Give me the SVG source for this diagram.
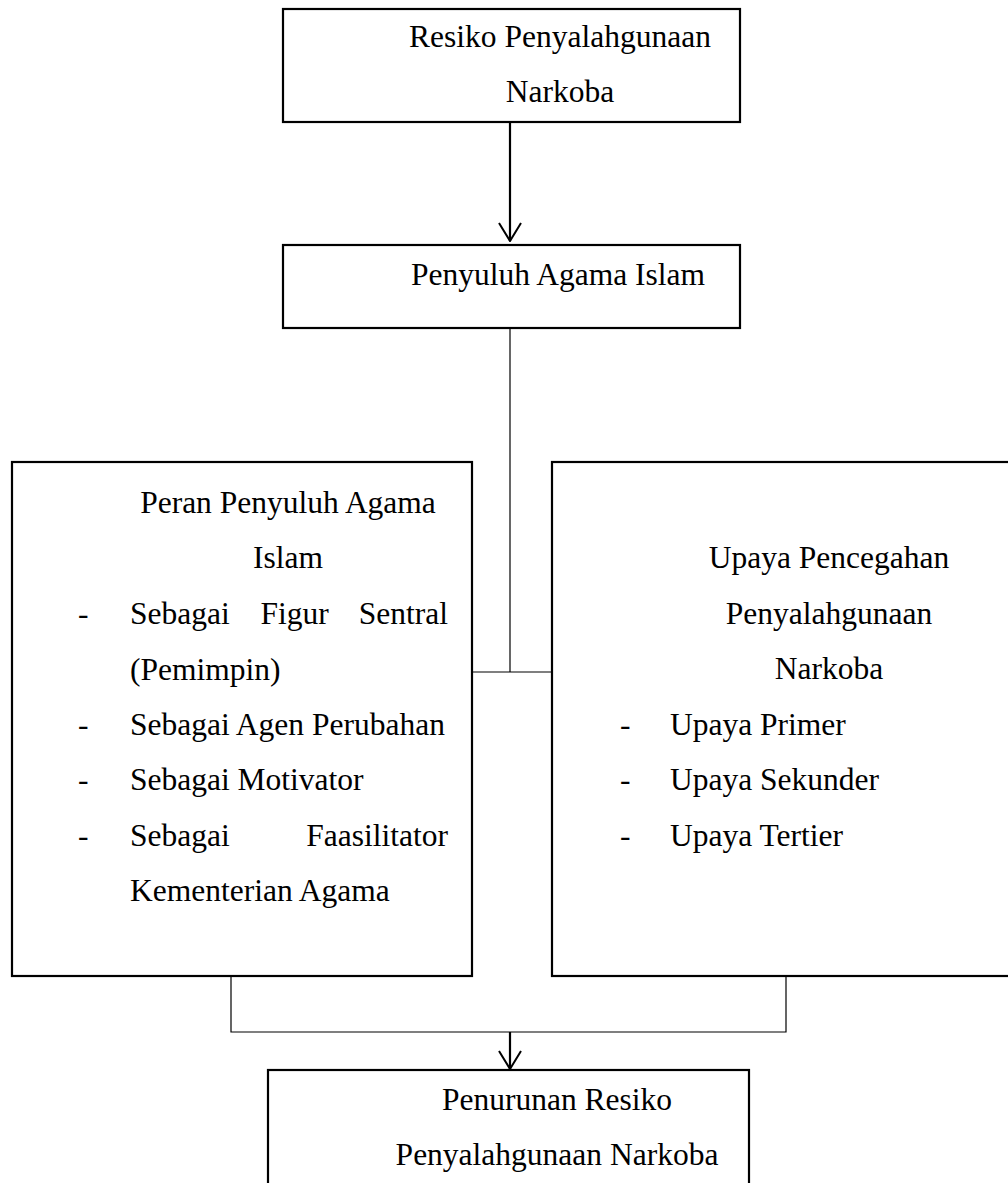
<svg xmlns="http://www.w3.org/2000/svg" width="1008" height="1183" viewBox="0 0 1008 1183">
<style>
  .box { fill: #ffffff; stroke: #000000; stroke-width: 2.2; }
  .thin { fill: none; stroke: #000000; stroke-width: 1.2; }
  .thick { fill: none; stroke: #000000; stroke-width: 2.2; }
  text { font-family: "Liberation Serif", "Times New Roman", serif; font-size: 31.5px; fill: #000000; }
  .c { text-anchor: middle; }
  .e { text-anchor: end; }
</style>
<defs>
  <marker id="arrow" viewBox="0 0 20 24" refX="19" refY="12" markerWidth="20" markerHeight="24" markerUnits="userSpaceOnUse" orient="auto">
    <path d="M1,1 L19,12 L1,23" fill="none" stroke="#000000" stroke-width="2"/>
  </marker>
</defs>
<rect x="0" y="0" width="1008" height="1183" fill="#ffffff"/>

<g id="connectors">
  <line class="thick" x1="510" y1="122" x2="510" y2="241" marker-end="url(#arrow)"/>
  <line class="thin" x1="510" y1="328" x2="510" y2="672"/>
  <line class="thin" x1="472" y1="672" x2="552" y2="672"/>
  <polyline class="thin" points="231,976 231,1032 786,1032 786,976"/>
  <line class="thick" x1="510" y1="1032" x2="510" y2="1069" marker-end="url(#arrow)"/>
</g>

<g id="node-resiko">
  <rect class="box" x="283" y="9" width="457" height="113"/>
  <text class="c" x="560" y="47">Resiko Penyalahgunaan</text>
  <text class="c" x="560" y="102">Narkoba</text>
</g>

<g id="node-penyuluh">
  <rect class="box" x="283" y="245" width="457" height="83"/>
  <text class="c" x="558" y="285">Penyuluh Agama Islam</text>
</g>

<g id="node-peran">
  <rect class="box" x="12" y="462" width="460" height="514"/>
  <text class="c" x="288" y="513">Peran Penyuluh Agama</text>
  <text class="c" x="288" y="568">Islam</text>
  <text x="78" y="624">-</text>
  <text x="130" y="624">Sebagai</text>
  <text x="260.5" y="624">Figur</text>
  <text class="e" x="448" y="624">Sentral</text>
  <text x="130" y="680">(Pemimpin)</text>
  <text x="78" y="735">-</text>
  <text x="130" y="735">Sebagai Agen Perubahan</text>
  <text x="78" y="790">-</text>
  <text x="130" y="790">Sebagai Motivator</text>
  <text x="78" y="846">-</text>
  <text x="130" y="846">Sebagai</text>
  <text class="e" x="448" y="846">Faasilitator</text>
  <text x="130" y="901">Kementerian Agama</text>
</g>

<g id="node-upaya">
  <rect class="box" x="552" y="462" width="470" height="514"/>
  <text class="c" x="829" y="568">Upaya Pencegahan</text>
  <text class="c" x="829" y="624">Penyalahgunaan</text>
  <text class="c" x="829" y="679">Narkoba</text>
  <text x="620" y="735">-</text>
  <text x="670" y="735">Upaya Primer</text>
  <text x="620" y="790">-</text>
  <text x="670" y="790">Upaya Sekunder</text>
  <text x="620" y="846">-</text>
  <text x="670" y="846">Upaya Tertier</text>
</g>

<g id="node-penurunan">
  <rect class="box" x="268" y="1070" width="481" height="130"/>
  <text class="c" x="557" y="1110">Penurunan Resiko</text>
  <text class="c" x="557" y="1165">Penyalahgunaan Narkoba</text>
</g>
</svg>
